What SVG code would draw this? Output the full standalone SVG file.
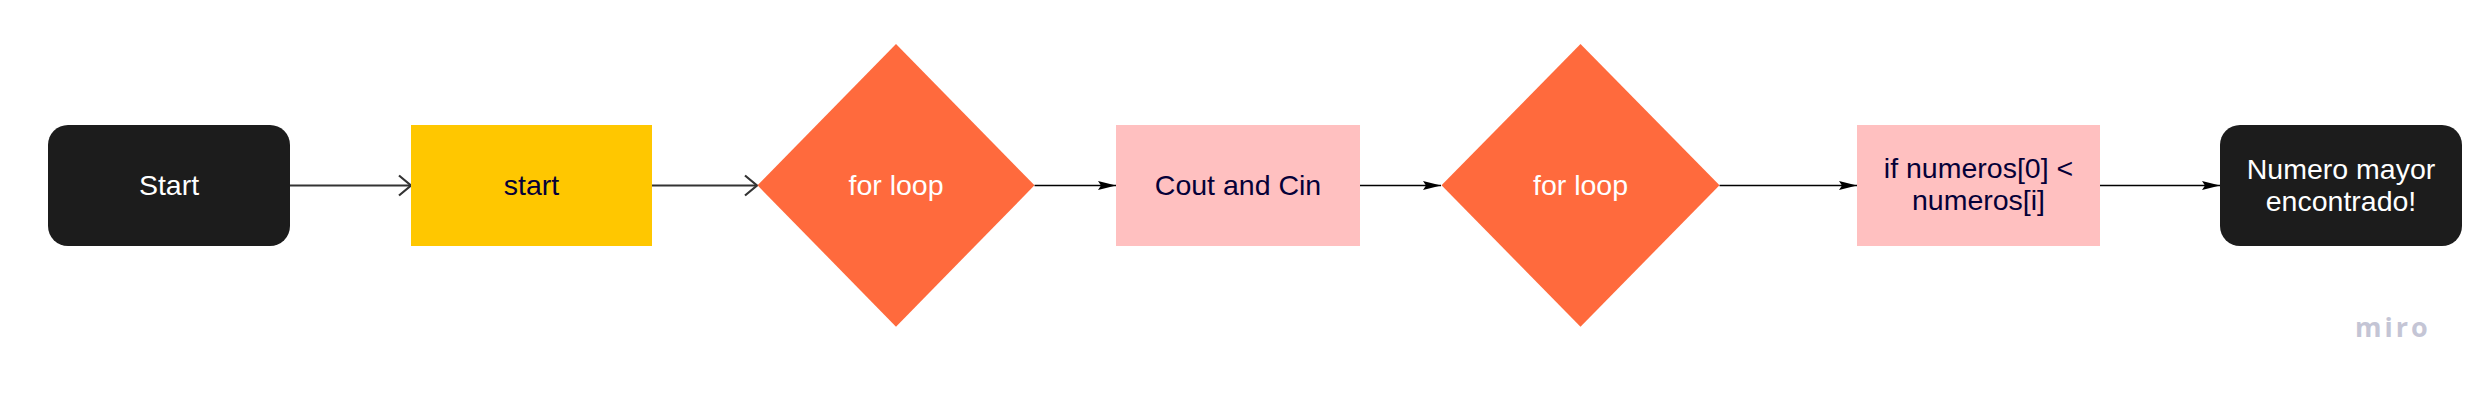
<svg xmlns="http://www.w3.org/2000/svg" width="2490" height="401" viewBox="0 0 2490 401">
<style>
.lbl{font-family:"Liberation Sans",Arial,sans-serif;font-size:28.5px;text-anchor:middle}
.w{fill:#ffffff}
.n{fill:#050038}
.term{fill:#1c1c1c}
.proc{fill:#ffc0c0}
.dec{fill:#ff6a3d}
.c1{stroke:#333333;stroke-width:2;fill:none}
.c2{stroke:#000000;stroke-width:1.5;fill:none}
</style>
<defs>
<marker id="open" markerUnits="userSpaceOnUse" markerWidth="30" markerHeight="30" refX="15" refY="15" orient="auto" viewBox="0 0 30 30">
<path d="M3,5 L15,15 L3,25" fill="none" stroke="#333333" stroke-width="2.2"/>
</marker>
<marker id="fill" markerUnits="userSpaceOnUse" markerWidth="24" markerHeight="14" refX="20" refY="7" orient="auto" viewBox="0 0 24 14">
<path d="M2,2.5 L20,7 L2,11.5 L5,7 z" fill="#000000"/>
</marker>
</defs>
<rect width="2490" height="401" fill="#ffffff"/>
<g id="connectors">
<line class="c1" x1="290" y1="185.5" x2="411" y2="185.5" marker-end="url(#open)"/>
<line class="c1" x1="652" y1="185.5" x2="757" y2="185.5" marker-end="url(#open)"/>
<line class="c2" x1="1034.5" y1="185.5" x2="1116" y2="185.5" marker-end="url(#fill)"/>
<line class="c2" x1="1360" y1="185.5" x2="1441" y2="185.5" marker-end="url(#fill)"/>
<line class="c2" x1="1719.5" y1="185.5" x2="1857" y2="185.5" marker-end="url(#fill)"/>
<line class="c2" x1="2100" y1="185.5" x2="2220" y2="185.5" marker-end="url(#fill)"/>
</g>
<g id="node-start">
<rect class="term" x="48" y="125" width="242" height="121" rx="20" ry="20"/>
<text class="lbl w" x="169" y="195">Start</text>
</g>
<g id="node-start2">
<rect x="411" y="125" width="241" height="121" fill="#ffc700"/>
<text class="lbl n" x="531.5" y="195">start</text>
</g>
<g id="node-for1">
<polygon class="dec" points="757.5,185.3 896,44 1034.5,185.3 896,326.7"/>
<text class="lbl w" x="896" y="195">for loop</text>
</g>
<g id="node-cout">
<rect class="proc" x="1116" y="125" width="244" height="121"/>
<text class="lbl n" x="1238" y="195">Cout and Cin</text>
</g>
<g id="node-for2">
<polygon class="dec" points="1441.5,185.3 1580.5,44 1719.5,185.3 1580.5,326.7"/>
<text class="lbl w" x="1580.5" y="195">for loop</text>
</g>
<g id="node-if">
<rect class="proc" x="1857" y="125" width="243" height="121"/>
<text class="lbl n" x="1978.5" y="178">if numeros[0] &lt;</text>
<text class="lbl n" x="1978.5" y="210">numeros[i]</text>
</g>
<g id="node-end">
<rect class="term" x="2220" y="125" width="242" height="121" rx="20" ry="20"/>
<text class="lbl w" x="2341" y="179">Numero mayor</text>
<text class="lbl w" x="2341" y="211">encontrado!</text>
</g>
<text x="2355" y="337" font-family="'Open Sans',sans-serif" font-weight="700" font-size="27" letter-spacing="3" fill="#c4c5d5">miro</text>
</svg>
